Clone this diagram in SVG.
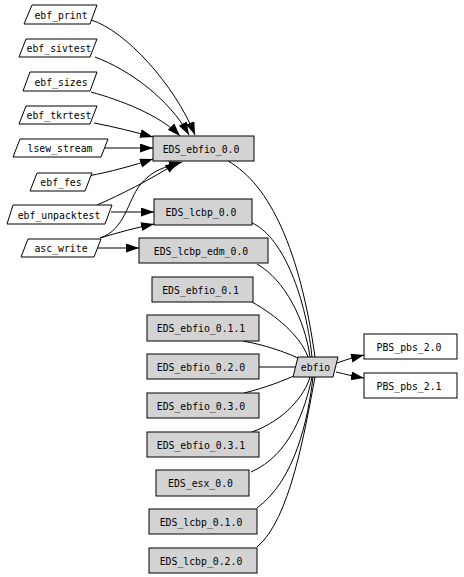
<svg xmlns="http://www.w3.org/2000/svg" width="464" height="577" viewBox="0 0 464 577">
<style>
text{font-family:"DejaVu Sans Mono","Liberation Mono",monospace;font-size:9.8px;fill:#000;text-anchor:middle}
.app polygon{fill:#fff;stroke:#000;stroke-width:1}
.eds rect,.lib polygon{fill:#d3d3d3;stroke:#000;stroke-width:1}
.pbs rect{fill:#fff;stroke:#000;stroke-width:1}
#edges path{fill:none;stroke:#000;stroke-width:1}
#edges path.a{marker-end:url(#arr)}
</style>
<defs>
<marker id="arr" markerUnits="userSpaceOnUse" markerWidth="14" markerHeight="10" refX="13" refY="4.5" orient="auto">
<path d="M0,0 L13,4.5 L0,9 z" fill="#000"/>
</marker>
</defs>
<rect width="464" height="577" fill="#fff"/>
<g id="edges">
<path class="a" d="M91,20 C125,30 175,85 195,135"/>
<path class="a" d="M95,57 C130,70 170,100 189,135"/>
<path class="a" d="M91,92 C120,100 160,115 180,136"/>
<path class="a" d="M94,123 C115,127 135,132 153,137"/>
<path class="a" d="M101,148 L153,148"/>
<path class="a" d="M88,176 C110,172 135,165 153,159"/>
<path class="a" d="M97,205 C120,195 150,180 178,162"/>
<path class="a" d="M100,238 C125,230 128,200 140,185 S165,167 182,162"/>
<path class="a" d="M111,212 L154,212"/>
<path class="a" d="M100,238 C120,232 135,228 154,224"/>
<path class="a" d="M95,248 L139,248"/>
<path d="M228,161 C270,185 300,250 315,357"/>
<path d="M252,223 C280,235 305,290 312,357"/>
<path d="M257,264 C285,280 305,320 310,357"/>
<path d="M252,302 C275,315 300,335 308,357"/>
<path d="M243,341 C265,345 285,352 298,358"/>
<path d="M259,367 L295,367"/>
<path d="M244,393 C265,388 285,380 296,375"/>
<path d="M252,432 C285,420 305,395 310,377"/>
<path d="M251,472 C290,455 305,410 312,377"/>
<path d="M257,508 C295,480 308,420 313,377"/>
<path d="M257,547 C290,520 305,430 315,377"/>
<path class="a" d="M337,363 C345,360 352,358 364,355"/>
<path class="a" d="M336,372 C345,374 352,376 364,378"/>
</g>
<g id="ebf_print" class="app"><polygon points="32,5 97,5 90,24 24,24"/><text x="61" y="18.5">ebf_print</text></g>
<g id="ebf_sivtest" class="app"><polygon points="26,39 97,39 90,57 19,57"/><text x="59" y="52">ebf_sivtest</text></g>
<g id="ebf_sizes" class="app"><polygon points="30,72 97,72 90,91 23,91"/><text x="61" y="85.5">ebf_sizes</text></g>
<g id="ebf_tkrtest" class="app"><polygon points="26,106 97,106 90,124 19,124"/><text x="59" y="119">ebf_tkrtest</text></g>
<g id="lsew_stream" class="app"><polygon points="20,139 108,139 101,157 13,157"/><text x="60" y="152">lsew_stream</text></g>
<g id="ebf_fes" class="app"><polygon points="37,173 92,173 85,191 30,191"/><text x="61" y="186">ebf_fes</text></g>
<g id="ebf_unpacktest" class="app"><polygon points="13,205 112,205 105,224 7,224"/><text x="59" y="218.5">ebf_unpacktest</text></g>
<g id="asc_write" class="app"><polygon points="28,239 101,239 94,257 21,257"/><text x="61" y="252">asc_write</text></g>
<g id="EDS_ebfio_0.0" class="eds"><rect x="153" y="136" width="101" height="25"/><text x="201" y="152.5">EDS_ebfio_0.0</text></g>
<g id="EDS_lcbp_0.0" class="eds"><rect x="154" y="199" width="98" height="26"/><text x="201" y="216">EDS_lcbp_0.0</text></g>
<g id="EDS_lcbp_edm_0.0" class="eds"><rect x="139" y="238" width="129" height="25"/><text x="201" y="254.5">EDS_lcbp_edm_0.0</text></g>
<g id="EDS_ebfio_0.1" class="eds"><rect x="152" y="277" width="101" height="25"/><text x="200.5" y="293.5">EDS_ebfio_0.1</text></g>
<g id="EDS_ebfio_0.1.1" class="eds"><rect x="147" y="315" width="112" height="26"/><text x="201" y="332">EDS_ebfio_0.1.1</text></g>
<g id="EDS_ebfio_0.2.0" class="eds"><rect x="147" y="354" width="112" height="25"/><text x="201" y="370.5">EDS_ebfio_0.2.0</text></g>
<g id="EDS_ebfio_0.3.0" class="eds"><rect x="147" y="393" width="112" height="25"/><text x="201" y="409.5">EDS_ebfio_0.3.0</text></g>
<g id="EDS_ebfio_0.3.1" class="eds"><rect x="147" y="432" width="112" height="25"/><text x="201" y="448.5">EDS_ebfio_0.3.1</text></g>
<g id="EDS_esx_0.0" class="eds"><rect x="156" y="470" width="93" height="26"/><text x="200.5" y="487">EDS_esx_0.0</text></g>
<g id="EDS_lcbp_0.1.0" class="eds"><rect x="149" y="509" width="108" height="25"/><text x="201" y="525.5">EDS_lcbp_0.1.0</text></g>
<g id="EDS_lcbp_0.2.0" class="eds"><rect x="149" y="548" width="108" height="25"/><text x="201" y="564.5">EDS_lcbp_0.2.0</text></g>
<g id="ebfio" class="lib"><polygon points="298,357 338,357 333,377 293,377"/><text x="315.5" y="371">ebfio</text></g>
<g id="PBS_pbs_2.0" class="pbs"><rect x="364" y="334" width="93" height="25"/><text x="409" y="350.5">PBS_pbs_2.0</text></g>
<g id="PBS_pbs_2.1" class="pbs"><rect x="364" y="373" width="93" height="25"/><text x="409" y="389.5">PBS_pbs_2.1</text></g>
</svg>
